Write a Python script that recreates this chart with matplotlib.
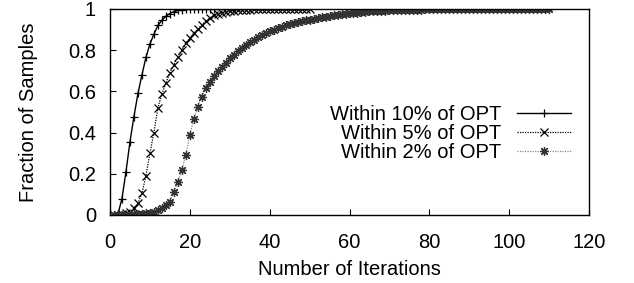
import matplotlib
matplotlib.use("Agg")
import matplotlib.pyplot as plt
from matplotlib.ticker import FuncFormatter

plt.rcParams['font.family'] = ['Liberation Sans', 'DejaVu Sans']
plt.rcParams['font.size'] = 14.5

# iterations 1..26 (within 10%)
it10 = list(range(1, 27))
frac10 = [0.0, 0.005, 0.08, 0.21, 0.355, 0.478, 0.59, 0.68, 0.765, 0.83,
          0.878, 0.92, 0.945, 0.965, 0.978, 0.987, 0.993, 0.996, 0.998, 0.999,
          1.0, 1.0, 1.0, 1.0, 1.0, 1.0]

# iterations 1..50 (within 5%)
it5 = list(range(1, 51))
frac5 = [0.0, 0.001, 0.003, 0.008, 0.016, 0.032, 0.057, 0.105, 0.19, 0.30,
         0.40, 0.52, 0.588, 0.64, 0.69, 0.729, 0.767, 0.80, 0.835, 0.859,
         0.883, 0.903, 0.924, 0.94, 0.956, 0.969, 0.977, 0.983, 0.987, 0.99,
         0.992, 0.994, 0.995, 0.996, 0.997, 0.998, 0.998, 0.998, 0.999, 0.999,
         0.999, 0.999, 1.0, 1.0, 1.0, 1.0, 1.0, 1.0, 1.0, 1.0]

# iterations 1..110 (within 2%)
it2 = list(range(1, 111))
frac2 = [0.0, 0.001, 0.001, 0.002, 0.002, 0.003, 0.004, 0.006, 0.008, 0.011,
         0.016, 0.024, 0.034, 0.048, 0.065, 0.113, 0.162, 0.219, 0.292, 0.389,
         0.465, 0.524, 0.575, 0.616, 0.648, 0.676, 0.70, 0.72, 0.74, 0.76,
         0.778, 0.795, 0.81, 0.825, 0.838, 0.85, 0.862, 0.872, 0.882, 0.891,
         0.899, 0.907, 0.914, 0.92, 0.926, 0.931, 0.936, 0.941, 0.945, 0.949,
         0.953, 0.957, 0.96, 0.963, 0.966, 0.969, 0.972, 0.975, 0.977, 0.979,
         0.981, 0.983, 0.985, 0.986, 0.988, 0.989, 0.99, 0.991, 0.992, 0.993,
         0.994, 0.994, 0.995, 0.996, 0.996, 0.997, 0.997, 0.997, 0.998, 0.998,
         0.998, 0.998, 0.998, 0.999, 0.999, 0.999, 0.999, 0.999, 0.999, 0.999,
         0.999, 1.0, 1.0, 1.0, 1.0, 1.0, 1.0, 1.0, 1.0, 1.0,
         1.0, 1.0, 1.0, 1.0, 1.0, 1.0, 1.0, 1.0, 1.0, 1.0]

labels = ["Within 10% of OPT", "Within 5% of OPT", "Within 2% of OPT"]

fig = plt.figure(figsize=(6.34, 2.83), dpi=100)
ax = fig.add_axes([110 / 634, 1 - 215 / 283, 479 / 634, 206 / 283])

ax.plot(it10, frac10, color='black', lw=1.0, ls='-', marker='+', ms=6,
        mew=0.9, label=labels[0])
ax.plot(it5, frac5, color='black', lw=0.9, ls=(0, (1, 1)), marker='x', ms=5.5,
        mew=0.9, label=labels[1])
ax.plot(it2, frac2, color='#8a8a8a', lw=0.9, ls=(0, (1, 1)), marker=(8, 2, 0),
        ms=6.5, mew=0.9, mec='#333333', label=labels[2])

ax.set_xlim(0, 120)
ax.set_ylim(0, 1)
ax.set_xticks([0, 20, 40, 60, 80, 100, 120])
ax.set_yticks([0, 0.2, 0.4, 0.6, 0.8, 1.0])
ax.yaxis.set_major_formatter(FuncFormatter(lambda v, p: ('%g' % round(v, 2))))
ax.tick_params(direction='in', length=4, width=0.8)
ax.tick_params(axis='y', pad=10)
ax.tick_params(axis='x', pad=13)
for s in ax.spines.values():
    s.set_linewidth(1.0)

ax.set_xlabel("Number of Iterations", labelpad=6)
ax.set_ylabel("Fraction of Samples", labelpad=22)

ax.legend(loc='center right', bbox_to_anchor=(0.962, 0.397), frameon=False,
          markerfirst=False, handlelength=2.65, handletextpad=0.8,
          labelspacing=0.0, borderpad=0, borderaxespad=0, numpoints=1)

fig.savefig("out.png", dpi=100)
